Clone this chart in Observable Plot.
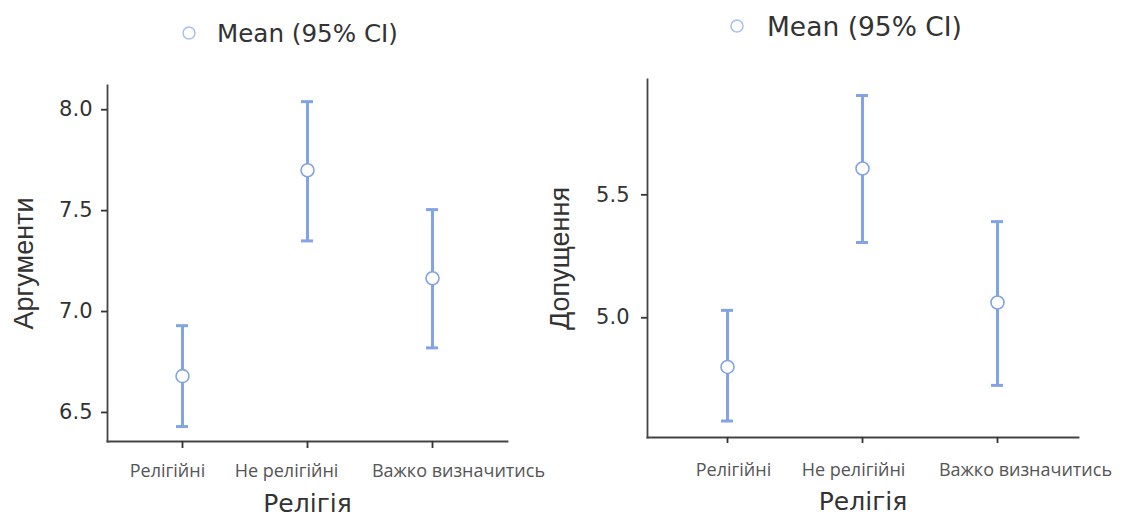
<!DOCTYPE html>
<html>
<head>
<meta charset="utf-8">
<script src="https://cdn.jsdelivr.net/npm/d3@7"></script>
<script src="https://cdn.jsdelivr.net/npm/@observablehq/plot@0.6"></script>
<style>
  html, body { margin: 0; padding: 0; background: #fff; }
  #wrap { position: relative; width: 1121px; height: 518px; overflow: hidden; }
  .panel { position: absolute; top: 0; }
  .legend { position: absolute; display: flex; align-items: center; font-family: "DejaVu Sans", sans-serif; color: #333; white-space: nowrap; }
  .legend svg { display: block; }
</style>
</head>
<body>
<div id="wrap"></div>
<script>
// ---- data ----
const categories = ["Релігійні", "Не релігійні", "Важко визначитись"];
const argMean = [6.68, 7.70, 7.165];
const argLow  = [6.43, 7.35, 6.82];
const argHigh = [6.93, 8.04, 7.505];
const dopMean = [4.80, 5.607, 5.062];
const dopLow  = [4.58, 5.306, 4.725];
const dopHigh = [5.03, 5.904, 5.391];
const argTicks = [6.5, 7.0, 7.5, 8.0];
const dopTicks = [5.0, 5.5];
const xTitle = "Релігія";
const legendText = "Mean (95% CI)";

const barColor = "#82a3e6";
const wrap = document.getElementById("wrap");

function panel(cfg) {
  const rows = categories.map((c, i) => ({cat: c, mean: cfg.mean[i], lo: cfg.lo[i], hi: cfg.hi[i]}));
  const labelAxes = categories.map((c, i) => Plot.axisX({
    ticks: [c], tickSize: 0, tickPadding: cfg.xTickSize + cfg.xLabelPad, dx: cfg.labelDx[i],
    fontSize: 18, fontFamily: "Open Sans, Noto Sans, sans-serif", color: "#555", label: null
  }));
  const chart = Plot.plot({
    width: cfg.width, height: 518,
    marginLeft: cfg.ml, marginRight: cfg.mr, marginTop: cfg.mt, marginBottom: cfg.mb,
    style: {background: "transparent", overflow: "visible"},
    x: {type: "band", domain: categories, paddingInner: cfg.pi, paddingOuter: cfg.po, axis: null},
    y: {domain: cfg.domain, axis: null},
    marks: [
      Plot.frame({anchor: "left", stroke: "#444", strokeWidth: 1.8}),
      Plot.frame({anchor: "bottom", stroke: "#444", strokeWidth: 1.8}),
      Plot.axisY({ticks: cfg.ticks, tickSize: 6, tickPadding: cfg.yPad, tickFormat: d3.format(".1f"),
        fontSize: cfg.yFont, fontFamily: "DejaVu Sans, sans-serif", color: "#333", strokeWidth: 1.8, label: null}),
      Plot.axisX({tickSize: cfg.xTickSize, tickFormat: () => "", color: "#333", strokeWidth: 1.8, label: null}),
      ...labelAxes,
      Plot.ruleX(rows, {x: "cat", y1: "lo", y2: "hi", stroke: barColor, strokeWidth: 3}),
      Plot.tickY(rows, {x: "cat", y: "lo", stroke: barColor, strokeWidth: 3}),
      Plot.tickY(rows, {x: "cat", y: "hi", stroke: barColor, strokeWidth: 3}),
      Plot.dot(rows, {x: "cat", y: "mean", r: 6.5, fill: "white", stroke: barColor, strokeWidth: 1.6}),
      Plot.text([xTitle], {frameAnchor: "bottom", text: d => d, dy: cfg.xTitleDy, fontSize: 25,
        lineAnchor: "middle", textAnchor: "middle",
        fontFamily: "DejaVu Sans, sans-serif", fill: "#333"}),
      Plot.text([cfg.yTitle], {frameAnchor: "left", text: d => d, rotate: -90, dx: cfg.yTitleDx,
        lineAnchor: "middle", textAnchor: "middle",
        fontSize: 27, fontFamily: "Liberation Sans Narrow, Arial Narrow, Liberation Sans, sans-serif", fill: "#333"})
    ]
  });
  const div = document.createElement("div");
  div.className = "panel";
  div.style.left = cfg.left + "px";
  div.appendChild(chart);
  wrap.appendChild(div);

  const lg = document.createElement("div");
  lg.className = "legend";
  lg.style.left = (cfg.legendX - 8) + "px";
  lg.style.top = (cfg.legendY - 20) + "px";
  lg.style.height = "40px";
  lg.style.fontSize = cfg.legendFont + "px";
  lg.innerHTML = `<svg width="16" height="16"><circle cx="8" cy="8" r="6" fill="white" stroke="#a9c0ef" stroke-width="1.5"/></svg>`
    + `<span style="margin-left:${cfg.legendGap}px">${legendText}</span>`;
  wrap.appendChild(lg);
}

panel({
  left: 0, width: 560, ml: 107, mr: 53, mt: 85, mb: 77,
  pi: 0.9, po: 0.55, domain: [6.356, 8.12], ticks: argTicks, mean: argMean, lo: argLow, hi: argHigh,
  yPad: 9, yFont: 21, xTickSize: 7, xLabelPad: 16, labelDx: [-15, -21, 26],
  xTitleDy: 62, yTitle: "Аргументи", yTitleDx: -83,
  legendX: 189, legendY: 33, legendFont: 24.6, legendGap: 20
});
panel({
  left: 560, width: 561, ml: 87, mr: 43, mt: 79, mb: 81,
  pi: 0.911, po: 0.55, domain: [4.513, 5.969], ticks: dopTicks, mean: dopMean, lo: dopLow, hi: dopHigh,
  yPad: 12, yFont: 21, xTickSize: 6, xLabelPad: 20, labelDx: [6, -9, 28],
  xTitleDy: 64, yTitle: "Допущення", yTitleDx: -87,
  legendX: 737, legendY: 26, legendFont: 26.5, legendGap: 22
});
</script>
</body>
</html>
